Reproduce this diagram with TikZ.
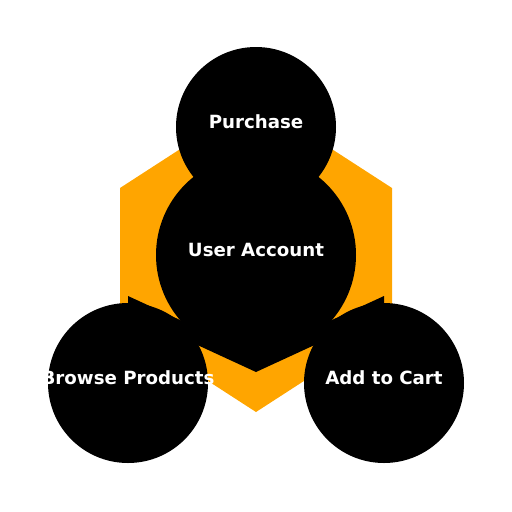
\documentclass[tikz,border=0pt]{standalone}
\usepackage{fontspec}
\setmainfont{DejaVu Sans}
\usepackage{xcolor}
\usetikzlibrary{positioning}
\definecolor{hexorange}{HTML}{FFA500}

\begin{document}
\begin{tikzpicture}[
        x=1pt, y=-1pt,
        font=\fontsize{18.2}{21}\selectfont\bfseries,
        disc/.style={
            circle,
            fill=black,
            inner sep=0pt,
            minimum size=160pt
        },
        bigdisc/.style={
            disc,
            minimum size=200pt
        },
        caption/.style={
            text=white,
            inner sep=0pt,
            yshift=5pt
        }
    ]
    \useasboundingbox (0,0) rectangle (512,512);

    % Background hexagon
    \fill [hexorange] (256,100) -- (392,188) -- (392,324) -- (256,412) -- (120,324) -- (120,188) -- cycle;

    % Chevron behind the account
    \fill [black] (128,296) -- (256,355) -- (384,296) -- (384,313) -- (256,372) -- (128,313) -- cycle;

    % Nodes
    \node [disc, label={[caption]center:Purchase}] (purchase) at (256,127) {};
    \node [bigdisc, label={[caption]center:User Account}] (account) at (256,255) {};
    \node [disc, label={[caption]center:Browse Products}] (browse) at (128,383) {};
    \node [disc, label={[caption]center:Add to Cart}] (cart) at (384,383) {};

\end{tikzpicture}
\end{document}
